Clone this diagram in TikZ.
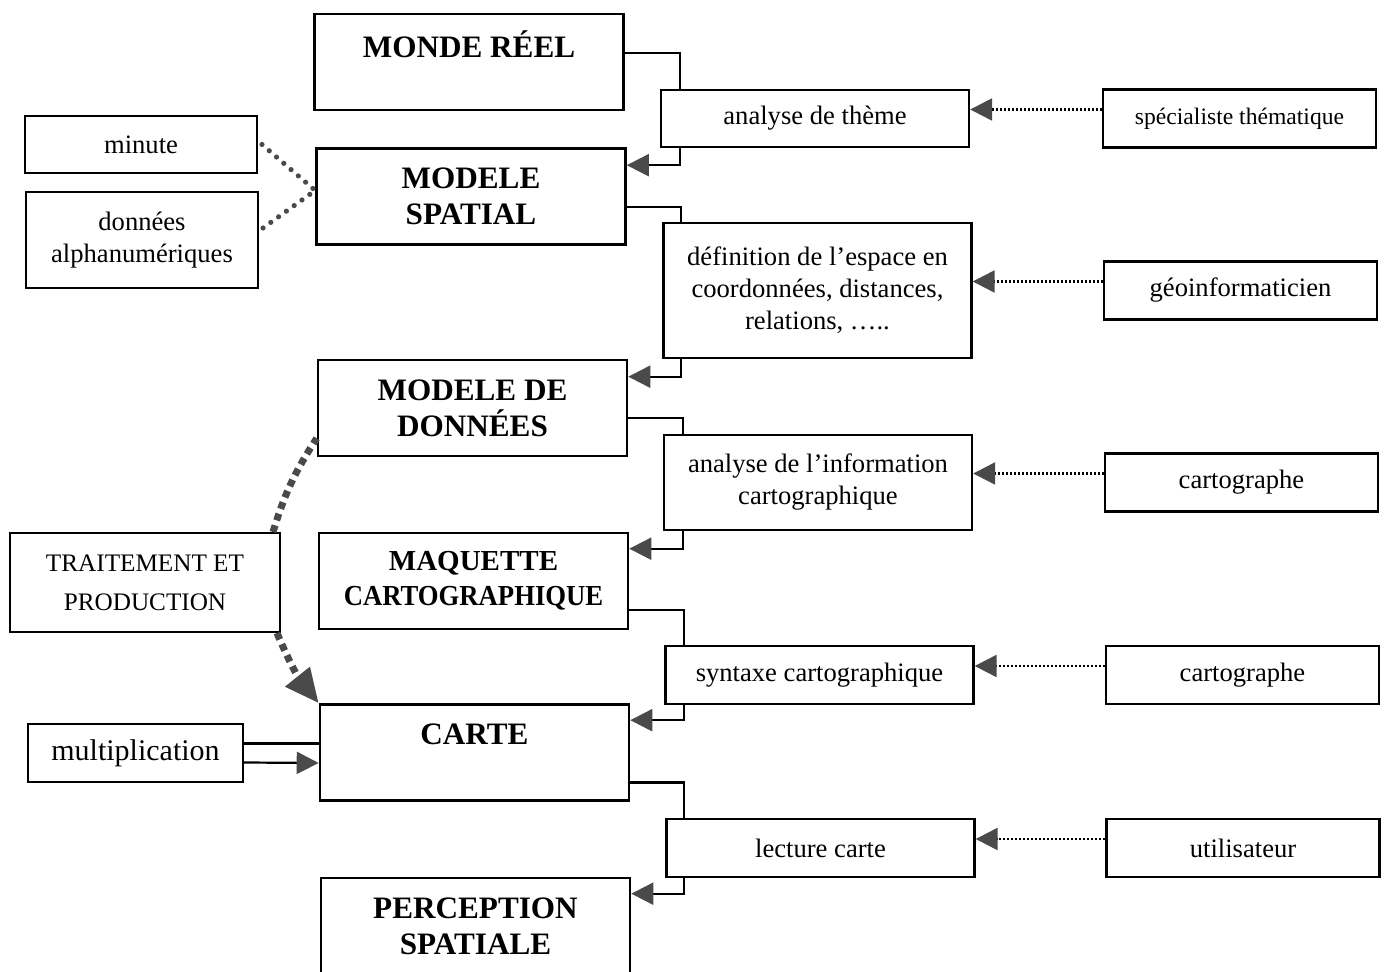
\documentclass[tikz,border=0pt]{standalone}
\usepackage{fontspec}
\setmainfont{Liberation Serif}
\usepackage{tikz}
\usetikzlibrary{arrows.meta}
\definecolor{tipgray}{HTML}{4A4A4A}

\begin{document}
\begin{tikzpicture}[
  x=0.5pt, y=-0.5pt,
  main/.style={draw, line width=1.3pt, minimum width=154.5pt, minimum height=48pt, inner sep=0pt, align=center, font=\bfseries\fontsize{15.6}{18}\selectfont},
  task/.style={draw, line width=1.2pt, minimum width=154pt, inner sep=0pt, align=center, font=\fontsize{13.3}{16}\selectfont},
  actor/.style={draw, line width=1.2pt, minimum width=136.5pt, minimum height=29pt, inner sep=0pt, align=center, font=\fontsize{13.3}{16}\selectfont},
  side/.style={draw, line width=1pt, inner sep=0pt, align=center, font=\fontsize{13.3}{16}\selectfont},
  link/.style={line width=1.1pt},
  flow/.style={line width=1.1pt, -{Triangle[length=11pt, width=11pt, color=tipgray]}},
  info/.style={line width=1.2pt, dash pattern=on 1pt off 1pt, -{Triangle[length=11pt, width=11pt, color=tipgray]}},
  dots/.style={line width=2.6pt, line cap=round, dash pattern=on 0pt off 4.8pt, draw=tipgray},
  bigdots/.style={line width=3.5pt, dash pattern=on 3.5pt off 2.6pt, draw=tipgray}
]
\useasboundingbox (0,0) rectangle (1388,972);

% main chain
\node[main] (monde)      at (469,62)    {MONDE RÉEL\\\mbox{}};
\node[main] (spatial)    at (471,196.5) {MODELE\\SPATIAL};
\node[main] (donnees)    at (472.5,408) {MODELE DE\\DONNÉES};
\node[main, font=\bfseries\fontsize{14.5}{17.5}\selectfont] (maquette) at (473.5,581) {MAQUETTE\\\scalebox{0.92}[1]{CARTOGRAPHIQUE}};
\node[main] (carte)      at (474.5,752.5) {CARTE\\\mbox{}};
\node[main] (perception) at (475.5,926) {PERCEPTION\\SPATIALE};

% operations
\node[task, minimum height=28.5pt] (theme)   at (815,118.5)  {analyse de thème};
\node[task, minimum height=67.5pt] (espace)  at (817.5,290.5) {définition de l’espace en\\coordonnées, distances,\\relations, …..};
\node[task, minimum height=47.5pt] (info)    at (818,482.5)  {analyse de l’information\\cartographique};
\node[task, minimum height=29pt]   (syntaxe) at (819.5,675)  {syntaxe cartographique};
\node[task, minimum height=29pt]   (lecture) at (820.5,848)  {lecture carte};

% actors
\node[actor, font=\fontsize{11.8}{14}\selectfont] (specialiste) at (1239.5,118.5) {spécialiste thématique};
\node[actor] (geoinfo) at (1240.5,290.5) {géoinformaticien};
\node[actor] (carto1)  at (1241.5,482.5) {cartographe};
\node[actor] (carto2)  at (1242.5,675)   {cartographe};
\node[actor] (usager)  at (1243,848)     {utilisateur};

% left side
\node[side, minimum width=116pt, minimum height=28.5pt] (minute) at (141,144.5) {minute};
\node[side, minimum width=116pt, minimum height=48pt]   (alpha)  at (142,240)   {données\\alphanumériques};
\node[side, minimum width=135pt, minimum height=49.5pt, font=\fontsize{12.6}{19.5}\selectfont] (traitement) at (145,582.5) {TRAITEMENT ET\\PRODUCTION};
\node[side, minimum width=107.5pt, minimum height=29pt, font=\fontsize{15}{18}\selectfont] (multi) at (135.5,753) {multiplication};

% chain connectors
\draw[link] ([yshift=4.5pt]monde.east) -| ([xshift=10pt]theme.north west);
\draw[flow] ([xshift=10pt]theme.south west) |- ([yshift=-9pt]spatial.north east);
\draw[link] ([yshift=-5.25pt]spatial.east) -| ([xshift=9.5pt]espace.north west);
\draw[flow] ([xshift=9.5pt]espace.south west) |- ([yshift=-9pt]donnees.north east);
\draw[link] ([yshift=-5pt]donnees.east) -| ([xshift=10pt]info.north west);
\draw[flow] ([xshift=10pt]info.south west) |- ([yshift=-8.5pt]maquette.north east);
\draw[link] ([yshift=-14.5pt]maquette.east) -| ([xshift=10pt]syntaxe.north west);
\draw[flow] ([xshift=10pt]syntaxe.south west) |- ([yshift=-8.5pt]carte.north east);
\draw[link] ([yshift=-15pt]carte.east) -| ([xshift=9.5pt]lecture.north west);
\draw[flow] ([xshift=9.5pt]lecture.south west) |- ([yshift=-8.5pt]perception.north east);

% actors to operations
\draw[info] ([yshift=4.5pt]specialiste.west) -- ([yshift=4.5pt]theme.east);
\draw[info] ([yshift=4.5pt]geoinfo.west)     -- ([yshift=4.5pt]espace.east);
\draw[info] ([yshift=4.5pt]carto1.west)      -- ([yshift=4.5pt]info.east);
\draw[info] ([yshift=4.5pt]carto2.west)      -- ([yshift=4.5pt]syntaxe.east);
\draw[info] ([yshift=4.5pt]usager.west)      -- ([yshift=4.5pt]lecture.east);

% inputs
\draw[dots] ([xshift=2pt]minute.east) -- ([yshift=3pt]spatial.west);
\draw[dots] ([xshift=2pt, yshift=6pt]alpha.east) -- ([yshift=3pt]spatial.west);
\draw[bigdots] ([xshift=-4pt]traitement.north east) to[bend left=8] ([yshift=9.5pt]donnees.south west);
\draw[bigdots, -{Triangle[length=17pt, width=15pt, color=tipgray]}] ([xshift=-2pt]traitement.south east) to[bend right=8] (carte.north west);
\draw[link] ([yshift=4.75pt]multi.east) -- ([yshift=4.5pt]carte.west);
\draw[flow] ([yshift=-4.75pt]multi.east) -- ([yshift=-5.25pt]carte.west);
\end{tikzpicture}
\end{document}
